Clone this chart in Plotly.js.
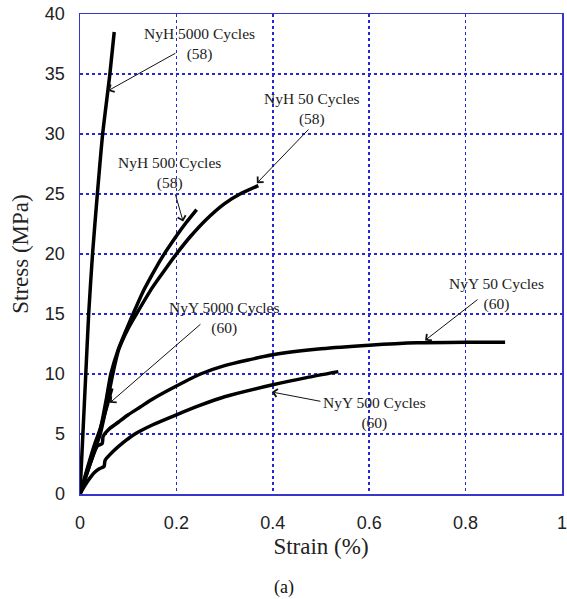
<!DOCTYPE html>
<html>
<head>
<meta charset="utf-8">
<script src="https://cdn.plot.ly/plotly-3.0.1.min.js"></script>
<style>html,body{margin:0;padding:0;background:#fff}#chart{width:567px;height:599px}</style>
</head>
<body>
<div id="chart"></div>
<script>
// Strain (%) and Stress (MPa)
const nyh5000_x = [0, 0.006, 0.012, 0.018, 0.026, 0.036, 0.047, 0.062, 0.071];
const nyh5000_y = [0, 5, 10, 15, 20, 25, 30, 35, 38.5];

const nyh500_x = [0, 0.01, 0.02, 0.03, 0.04, 0.048, 0.055, 0.064, 0.079, 0.095, 0.11, 0.13, 0.15, 0.17, 0.2, 0.22, 0.242];
const nyh500_y = [0, 1.3, 2.6, 3.8, 5.0, 6.5, 8.0, 10.0, 12.0, 13.6, 15.0, 16.8, 18.3, 19.7, 21.5, 22.6, 23.7];

const nyh50_x = [0, 0.01, 0.02, 0.03, 0.042, 0.05, 0.058, 0.068, 0.08, 0.1, 0.12, 0.15, 0.18, 0.2, 0.23, 0.26, 0.3, 0.332, 0.37];
const nyh50_y = [0, 1.2, 2.4, 3.6, 5.0, 6.4, 8.0, 10.0, 12.0, 13.8, 15.2, 17.2, 18.9, 20.0, 21.5, 22.8, 24.2, 25.0, 25.7];

const nyy5000_x = [0, 0.01, 0.02, 0.03, 0.04, 0.05, 0.058, 0.066];
const nyy5000_y = [0, 1.4, 2.8, 4.1, 5.2, 6.5, 7.6, 8.8];

const nyy50_x = [0, 0.01, 0.02, 0.03, 0.036, 0.046, 0.048, 0.06, 0.08, 0.1, 0.125, 0.15, 0.2, 0.25, 0.3, 0.4, 0.5, 0.6, 0.7, 0.8, 0.882];
const nyy50_y = [0, 1.2, 2.4, 3.5, 4.0, 4.2, 4.8, 5.4, 6.0, 6.6, 7.25, 7.9, 9.0, 10.0, 10.7, 11.6, 12.1, 12.4, 12.6, 12.65, 12.65];

const nyy500_x = [0, 0.01, 0.02, 0.03, 0.04, 0.05, 0.052, 0.07, 0.09, 0.11, 0.13, 0.15, 0.2, 0.25, 0.3, 0.4, 0.47, 0.536];
const nyy500_y = [0, 0.7, 1.3, 1.8, 2.1, 2.3, 2.8, 3.6, 4.3, 4.9, 5.35, 5.75, 6.6, 7.4, 8.1, 9.1, 9.7, 10.2];

const xTickVals = [0, 0.2, 0.4, 0.6, 0.8, 1];
const xTickText = ['0', '0.2', '0.4', '0.6', '0.8', '1'];
const yTickVals = [0, 5, 10, 15, 20, 25, 30, 35, 40];

// labels: [text, x, y] and arrows: [tipX, tipY, tailX, tailY]
const labelText = ['NyH 5000 Cycles<br>(58)', 'NyH 50 Cycles<br>(58)', 'NyH 500 Cycles<br>(58)',
                   'NyY 5000 Cycles<br>(60)', 'NyY 50 Cycles<br>(60)', 'NyY 500 Cycles<br>(60)'];
const labelX = [0.247, 0.481, 0.185, 0.299, 0.865, 0.612];
const labelY = [37.5, 32.1, 26.75, 14.7, 16.67, 6.75];
const arrowTipX = [0.058, 0.367, 0.214, 0.062, 0.716, 0.398];
const arrowTipY = [33.6, 25.9, 22.7, 7.6, 12.8, 8.5];
const arrowTailX = [0.201, 0.477, 0.197, 0.253, 0.828, 0.502];
const arrowTailY = [36.8, 30.5, 25.1, 14.25, 16.3, 7.7];

const lineStyle = {color: '#000', width: 3.5, shape: 'spline', smoothing: 0.6};
const mk = (x, y, name) => ({x, y, name, type: 'scatter', mode: 'lines', line: lineStyle, hoverinfo: 'skip'});

const data = [
  mk(nyh5000_x, nyh5000_y, 'NyH 5000'),
  mk(nyh500_x, nyh500_y, 'NyH 500'),
  mk(nyh50_x, nyh50_y, 'NyH 50'),
  mk(nyy5000_x, nyy5000_y, 'NyY 5000'),
  mk(nyy50_x, nyy50_y, 'NyY 50'),
  mk(nyy500_x, nyy500_y, 'NyY 500')
];

const serif = "'Liberation Serif', 'Times New Roman', serif";
const sans = "'Liberation Sans', Arial, sans-serif";
const annotations = [];
for (let i = 0; i < labelText.length; i++) {
  annotations.push({x: arrowTipX[i], y: arrowTipY[i], ax: arrowTailX[i], ay: arrowTailY[i],
    xref: 'x', yref: 'y', axref: 'x', ayref: 'y', text: '', showarrow: true,
    arrowhead: 4, arrowsize: 1.6, arrowwidth: 1, arrowcolor: '#111'});
  annotations.push({x: labelX[i], y: labelY[i], xref: 'x', yref: 'y', text: labelText[i],
    showarrow: false, xanchor: 'center', yanchor: 'middle', align: 'center',
    font: {family: serif, size: 15.5, color: '#222'}});
}
annotations.push({x: 0.423, y: -0.194, xref: 'paper', yref: 'paper', text: '(a)', showarrow: false,
  xanchor: 'center', yanchor: 'middle', font: {family: serif, size: 18, color: '#111'}});

const axisCommon = {
  showline: true, linecolor: '#3636cc', linewidth: 1.5, mirror: true,
  showgrid: true, gridcolor: '#2626d6', gridwidth: 1.5, griddash: 'dot',
  zeroline: false, ticks: '',
  tickfont: {family: sans, size: 18, color: '#222'}
};

const layout = {
  width: 567, height: 599,
  margin: {l: 80, r: 5, t: 14, b: 105},
  paper_bgcolor: '#fff', plot_bgcolor: '#fff',
  showlegend: false,
  xaxis: Object.assign({}, axisCommon, {
    range: [0, 1.0001], tickvals: xTickVals, ticktext: xTickText, ticklabelstandoff: 12,
    title: {text: 'Strain (%)', font: {family: serif, size: 23, color: '#222'}, standoff: 6}
  }),
  yaxis: Object.assign({}, axisCommon, {
    range: [0, 40], tickvals: yTickVals, ticklabelstandoff: 10,
    title: {text: 'Stress (MPa)', font: {family: serif, size: 23, color: '#222'}, standoff: 10}
  }),
  annotations
};

Plotly.newPlot('chart', data, layout, {staticPlot: true, displayModeBar: false});
</script>
</body>
</html>
